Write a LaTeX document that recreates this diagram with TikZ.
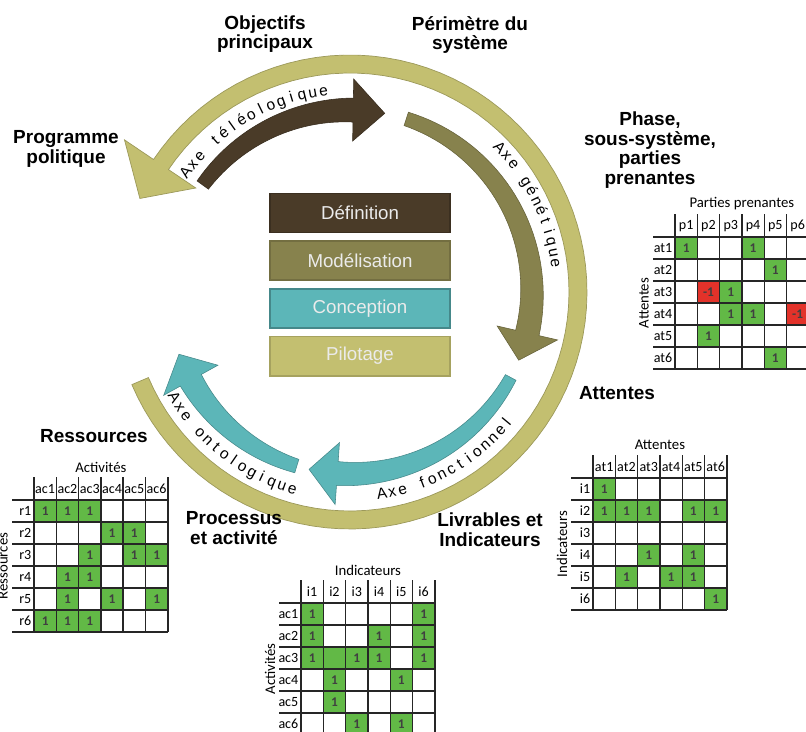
\documentclass[tikz,border=0pt]{standalone}
\usepackage{fontspec}
\setmainfont{Liberation Sans}
\newfontfamily\tabfont{Carlito}
\usetikzlibrary{positioning}
\usepackage{xcolor}

\definecolor{brun}{HTML}{4A3B28}
\definecolor{olive}{HTML}{87824D}
\definecolor{sarcelle}{HTML}{5CB6B8}
\definecolor{paille}{HTML}{C3BF70}
\definecolor{vert}{HTML}{62B946}
\definecolor{rouge}{HTML}{E3322A}

\tikzset{
  entete/.style={font=\tabfont\fontsize{10}{11}\selectfont, inner sep=1pt},
  titre/.style={font=\tabfont\fontsize{10.5}{12}\selectfont, inner sep=1pt},
  valeur/.style={font=\tabfont\bfseries\fontsize{9.5}{10}\selectfont, text=black!75},
  trait/.style={draw=black!85, line width=1pt},
}

% matrice : nom, x, y, titre, colonnes, lignes, etiquette laterale, cases
\newcommand{\grille}[8]{%
  \begin{scope}[shift={(#2,-#3)}]
    \foreach \lig/\col/\coul/\val in {#8}{
      \fill[\coul] ({(\col-1)*22.3},{-(\lig-1)*22}) rectangle ++(22.3,-22);
      \node[valeur] (#1-\lig-\col) at ({(\col-0.5)*22.3},{-(\lig-0.5)*22}) {\val};
    }
    \foreach \n [count=\k] in {#5}
      \node[entete] (#1-c\k) at ({(\k-0.5)*22.3},11) {\n};
    \foreach \n [count=\k] in {#6}
      \node[entete, anchor=east] (#1-l\k) at (-1,{-(\k-0.5)*22}) {\n};
    \node[titre] (#1-t) at (66.9,33) {#4};
    \node[titre, rotate=90] (#1-s) at (-31,-66) {#7};
    \foreach \k in {1,...,5}
      \draw[trait] (-22,{-\k*22}) -- (133.8,{-\k*22});
    \draw[trait, line width=2pt] (-22,0) -- (133.8,0) (-22,-132) -- (133.8,-132);
    \foreach \k in {0,...,6}
      \draw[trait] ({\k*22.3},23) -- ({\k*22.3},-132);
  \end{scope}}

\begin{document}
\begin{tikzpicture}[x=0.025cm, y=0.025cm,
  phase/.style={minimum width=4.5cm, minimum height=0.98cm, inner sep=0pt,
    text=white!92!black, font=\fontsize{13.3}{15}\selectfont, line width=1.2pt},
  etiquette/.style={font=\fontsize{13.5}{14}\selectfont\bfseries, align=center},
  axe/.style={font=\fontsize{11}{12}\selectfont, inner sep=0pt, anchor=base}]
\useasboundingbox (0,0) rectangle (806,-731);

\begin{scope}[shift={(350,-292)}]
  % grand cercle
  \fill[paille, draw=paille!80!black, line width=0.5pt]
    plot[domain=203:506, samples=90] (\x:237) -- (506:272) -- (516:230) -- (506:186)
    -- plot[domain=506:203, samples=90] (\x:219) -- cycle;
  % les quatre axes
  \foreach \coul/\a/\b/\pte/\wa/\wb in {brun/144/89/79/7/12, olive/72/-13/-22/7/12,
      sarcelle/-28/-94/-103/6/12, sarcelle/253/209/200/7/12}
    \fill[\coul, draw=\coul!75!black, line width=0.4pt]
      plot[domain=\a:\b, samples=40] (\x:{182+\wa+(\wb-\wa)*(\x-(\a))/(\b-(\a))})
      -- (\b:213) -- (\pte:182) -- (\b:151)
      -- plot[domain=\b:\a, samples=40] (\x:{182-\wa-(\wb-\wa)*(\x-(\a))/(\b-(\a))}) -- cycle;
  \foreach \a/\s/\rot/\rb/\txt in {
      144/-3.1/-90/198/{A,x,e,{},t,é,l,é,o,l,o,g,i,q,u,e},
      44/-3/-90/203/{A,x,e,{},g,é,n,é,t,i,q,u,e},
      211/3.05/90/210/{A,x,e,{},o,n,t,o,l,o,g,i,q,u,e},
      279/2.95/90/209/{A,x,e,{},f,o,n,c,t,i,o,n,n,e,l}}
    \foreach \k [count=\i from 0] in \txt
      \node[axe, rotate={\a+(\s)*\i+(\rot)}] (ax\a-\i) at ({\a+(\s)*\i}:\rb) {\k};
\end{scope}

\node[phase, fill=brun, draw=brun!80!black] (def) at (360,-213) {Définition};
\node[phase, fill=olive, draw=olive!85!black, below=0.17cm of def] (mod) {Modélisation};
\node[phase, fill=sarcelle, draw=sarcelle!75!black, below=0.17cm of mod] (con) {Conception};
\node[phase, fill=paille, draw=paille!85!black, below=0.17cm of con] (pil) {Pilotage};

\node[etiquette] (obj) at (265,-34) {Objectifs\\principaux};
\node[etiquette] (per) at (470,-35) {Périmètre du\\système};
\node[etiquette] (prog) at (66,-149) {Programme\\politique};
\node[etiquette] (pha) at (650,-150) {Phase,\\sous-système,\\parties\\prenantes};
\node[etiquette] (att) at (617,-393) {Attentes};
\node[etiquette] (res) at (94,-436) {Ressources};
\node[etiquette] (proc) at (234,-528) {Processus\\et activité};
\node[etiquette] (liv) at (490,-530) {Livrables et\\Indicateurs};

\grille{pp}{675}{237}{Parties prenantes}{p1,p2,p3,p4,p5,p6}{at1,at2,at3,at4,at5,at6}{Attentes}
  {1/1/vert/1, 1/4/vert/1, 2/5/vert/1, 3/2/rouge/-1, 3/3/vert/1, 4/3/vert/1,
   4/4/vert/1, 4/6/rouge/-1, 5/2/vert/1, 6/5/vert/1}
\grille{att}{593}{478}{Attentes}{at1,at2,at3,at4,at5,at6}{i1,i2,i3,i4,i5,i6}{Indicateurs}
  {1/1/vert/1, 2/1/vert/1, 2/2/vert/1, 2/3/vert/1, 2/5/vert/1, 2/6/vert/1,
   4/3/vert/1, 4/5/vert/1, 5/2/vert/1, 5/4/vert/1, 5/5/vert/1, 6/6/vert/1}
\grille{res}{34}{500}{Activités}{ac1,ac2,ac3,ac4,ac5,ac6}{r1,r2,r3,r4,r5,r6}{Ressources}
  {1/1/vert/1, 1/2/vert/1, 1/3/vert/1, 2/4/vert/1, 2/5/vert/1, 3/3/vert/1,
   3/5/vert/1, 3/6/vert/1, 4/2/vert/1, 4/3/vert/1, 5/2/vert/1, 5/4/vert/1,
   5/6/vert/1, 6/1/vert/1, 6/2/vert/1, 6/3/vert/1}
\grille{ind}{301}{603}{Indicateurs}{i1,i2,i3,i4,i5,i6}{ac1,ac2,ac3,ac4,ac5,ac6}{Activités}
  {1/1/vert/1, 1/6/vert/1, 2/1/vert/1, 2/4/vert/1, 2/6/vert/1, 3/1/vert/1,
   3/2/vert/{}, 3/3/vert/1, 3/4/vert/1, 3/6/vert/1, 4/2/vert/1, 4/5/vert/1,
   5/2/vert/1, 6/3/vert/1, 6/5/vert/1}
\end{tikzpicture}
\end{document}
